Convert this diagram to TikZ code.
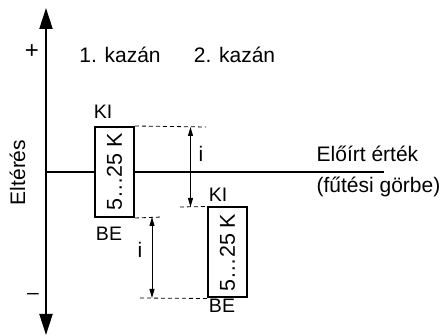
\documentclass[tikz,border=0pt]{standalone}
\usepackage{fontspec}
\setmainfont{Liberation Sans}
\usetikzlibrary{arrows.meta}
\begin{document}
\begin{tikzpicture}[x=1pt,y=-1pt,
  lbl/.style={inner sep=0pt,anchor=base,font=\fontsize{21}{24}\selectfont},
  sml/.style={inner sep=0pt,anchor=base,font=\fontsize{19.5}{22}\selectfont},
  boxk/.style={draw,line width=2pt,minimum width=39pt,minimum height=90pt,inner sep=0pt,font=\fontsize{21.5}{24}\selectfont},
  thick line/.style={line width=2pt},
  dash line/.style={line width=0.8pt,dash pattern=on 4pt off 3pt},
  iarrow/.style={line width=0.9pt,{Triangle[length=9pt,width=5pt]}-{Triangle[length=9pt,width=5pt]}}
]
\useasboundingbox (0,0) rectangle (442,336);
% axis
\coordinate (ytop) at (46,8);
\coordinate (ybot) at (46,335);
\draw[line width=2pt,{Triangle[length=21pt,width=13pt]}-{Triangle[length=21pt,width=13pt]}] (ybot) -- (ytop);
% boxes
\node[boxk] (b1) at (114.5,172) {\rotatebox{90}{5\ldots25 K}};
\node[boxk] (b2) at (227.5,252.5) {\rotatebox{90}{5\ldots25 K}};
% reference line
\coordinate (h0) at (46,172);
\coordinate (h1) at (384,172);
\draw[thick line] (h0) -- (b1.west);
\draw[thick line] (b1.east) -- (h1);
% dashed guides
\coordinate (d1) at (206,127);
\coordinate (d2) at (162,217);
\coordinate (d3) at (180,207);
\coordinate (d4) at (140,298);
\draw[dash line] (b1.north east) -- (d1);
\draw[dash line] (b1.south east) -- (d2);
\draw[dash line] (d3) -- (b2.north west);
\draw[dash line] (d4) -- (b2.south west);
% i arrows
\coordinate (a1t) at (190.5,127);
\coordinate (a1b) at (190.5,207);
\coordinate (a2t) at (152,217);
\coordinate (a2b) at (152,298);
\draw[iarrow] (a1t) -- (a1b);
\draw[iarrow] (a2t) -- (a2b);
\node[lbl] (i1) at (201,162) {i};
\node[lbl] (i2) at (140,258) {i};
% labels
\node[lbl,font=\fontsize{24}{26}\selectfont] (plus) at (32,59) {+};
\node[lbl] (minus) at (33,300) {–};
\node[lbl] (k1) at (120,63) {1. kazán};
\node[lbl] (k2) at (234.5,63) {2. kazán};
\node[sml] (ki1) at (103,119) {KI};
\node[sml] (be1) at (109,241) {BE};
\node[sml] (ki2) at (218,202) {KI};
\node[sml] (be2) at (222,313) {BE};
\node[lbl] (elo) at (367.5,162) {Előírt érték};
\node[lbl] (fut) at (378.5,193) {(fűtési görbe)};
\node[lbl,rotate=90] (elt) at (25,172.5) {Eltérés};
\end{tikzpicture}
\end{document}
